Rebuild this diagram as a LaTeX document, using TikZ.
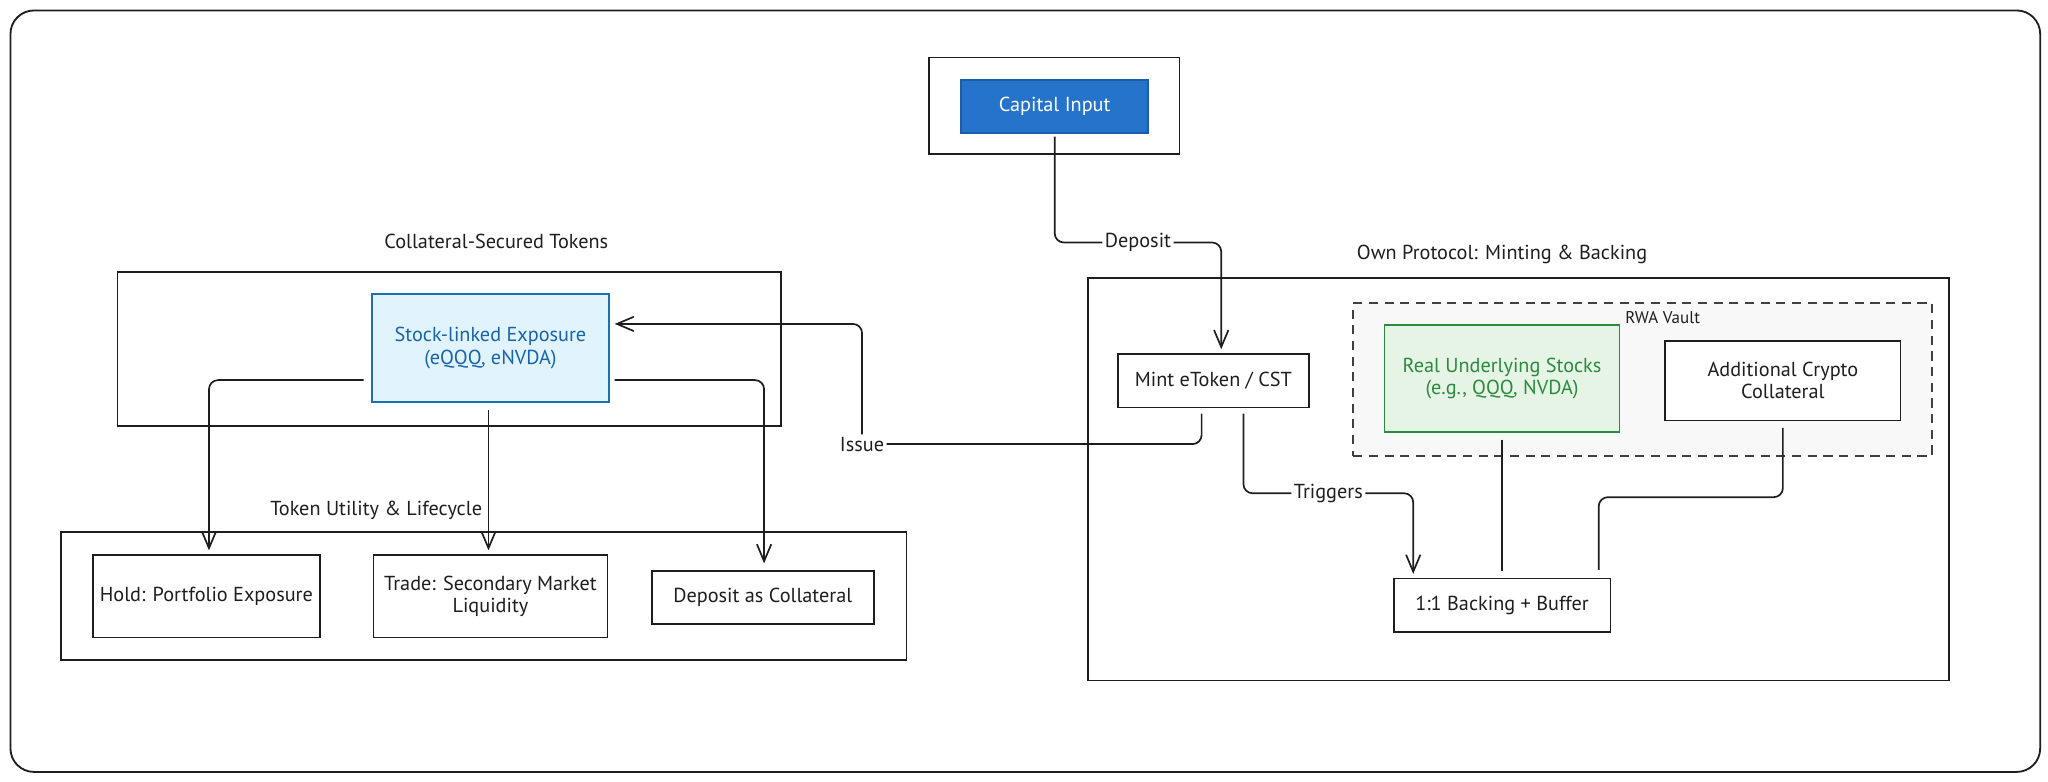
\documentclass[tikz,border=0pt]{standalone}
\usepackage{fontspec}
\setmainfont{PT Sans}
\usetikzlibrary{arrows.meta,calc}
\definecolor{capfill}{HTML}{2673CB}
\definecolor{capdraw}{HTML}{1C5CA8}
\definecolor{stockfill}{HTML}{E1F3FD}
\definecolor{stockdraw}{HTML}{1F6FB5}
\definecolor{stocktext}{HTML}{1864AB}
\definecolor{realfill}{HTML}{E6F4E6}
\definecolor{realdraw}{HTML}{2B8A3E}
\definecolor{vaultfill}{HTML}{F8F8F8}
\definecolor{ink}{HTML}{1E1E1E}
\begin{document}
\begin{tikzpicture}[x=1pt,y=-1pt,
  font=\fontsize{15.5}{17}\selectfont,
  every node/.style={text=ink},
  frame/.style={draw=ink, line width=1.4pt, inner sep=0pt},
  box/.style={draw=ink, line width=1.3pt, inner sep=1pt, align=center, fill=white},
  ttl/.style={inner sep=1pt},
  lbl/.style={fill=white, inner sep=2pt, text=ink},
  arr/.style={draw=ink, line width=1.3pt, rounded corners=7pt,
    -{Straight Barb[length=13pt,width=11pt,line width=1.3pt]}},
  plain/.style={draw=ink, line width=1.3pt, rounded corners=7pt}]
\useasboundingbox (0,0) rectangle (1568,598);
% outer frame
\draw[ink, line width=1.4pt, rounded corners=18pt] (8,8) rectangle (1562,591);

% capital input
\node[frame, minimum width=192pt, minimum height=74pt] (capframe) at (807,81) {};
\node[box, fill=capfill, draw=capdraw, text=white, minimum width=143pt, minimum height=41pt] (cap) at (807.5,81.5) {Capital Input};

% collateral-secured tokens
\node[ttl] (coltitle) at (380,185) {Collateral-Secured Tokens};
\node[frame, minimum width=508pt, minimum height=118pt] (colframe) at (344,267) {};
\node[box, fill=stockfill, draw=stockdraw, text=stocktext, minimum width=181pt, minimum height=83pt] (stock) at (375.5,266.5) {Stock-linked Exposure\\(eQQQ, eNVDA)};

% token utility
\node[ttl] (utiltitle) at (288,391) {Token Utility \& Lifecycle};
\node[frame, minimum width=647pt, minimum height=98pt] (utilframe) at (370.5,456) {};
\node[box, minimum width=174pt, minimum height=63pt] (hold) at (158,456.5) {Hold: Portfolio Exposure};
\node[box, minimum width=179pt, minimum height=63pt] (trade) at (375.5,456.5) {Trade: Secondary Market\\Liquidity};
\node[box, minimum width=170pt, minimum height=41pt] (depcol) at (584,457.5) {Deposit as Collateral};

% own protocol
\node[ttl] (owntitle) at (1150,195) {Own Protocol: Minting \& Backing};
\node[frame, minimum width=659pt, minimum height=308pt] (ownframe) at (1162.5,367) {};
\node[draw=ink!85, dashed, dash pattern=on 7pt off 5pt, line width=1.3pt, fill=vaultfill, inner sep=0pt, minimum width=443pt, minimum height=117pt] (vault) at (1257.5,290.5) {};
\node[ttl, font=\fontsize{13}{15}\selectfont] (vaulttitle) at (1273,243) {RWA Vault};
\node[box, fill=realfill, draw=realdraw, text=realdraw, minimum width=180pt, minimum height=82pt] (real) at (1150,290) {Real Underlying Stocks\\(e.g., QQQ, NVDA)};
\node[box, minimum width=180pt, minimum height=61pt] (addl) at (1365,291.5) {Additional Crypto\\Collateral};
\node[box, minimum width=146pt, minimum height=41pt] (mint) at (929,291.5) {Mint eToken / CST};
\node[box, minimum width=166pt, minimum height=41pt] (backing) at (1150,463.5) {1:1 Backing + Buffer};

\coordinate (issuebend) at (660,340);

% connectors
\draw[arr, shorten <=2pt, shorten >=3pt] (cap.south) -- ++(0,83) -| node[lbl, pos=0.25] {Deposit} ([xshift=6pt]mint.north);
\draw[arr, shorten <=6pt, shorten >=3pt] ([yshift=-24.5pt]stock.west) -| ([xshift=2pt]hold.north);
\draw[arr, shorten <=5pt, shorten >=3pt] ([xshift=-1.5pt]stock.south) -- ([xshift=-1.5pt]trade.north);
\draw[arr, shorten <=4pt, shorten >=5pt] ([yshift=-24.5pt]stock.east) -| ([xshift=1pt]depcol.north);
\draw[arr, shorten <=4pt, shorten >=4pt] ([xshift=-9pt]mint.south) |- (issuebend) node[lbl] {Issue} |- ([yshift=18.5pt]stock.east);
\draw[arr, shorten <=4pt, shorten >=3pt] ([xshift=23pt]mint.south) -- ++(0,65) -| node[lbl, pos=0.25] {Triggers} ([xshift=-68pt]backing.north);
\draw[plain, shorten <=5pt, shorten >=5pt] (real.south) -- (backing.north);
\draw[plain, shorten <=5pt, shorten >=6pt] (addl.south) -- ++(0,58) -| ([xshift=74pt]backing.north);
\end{tikzpicture}
\end{document}
